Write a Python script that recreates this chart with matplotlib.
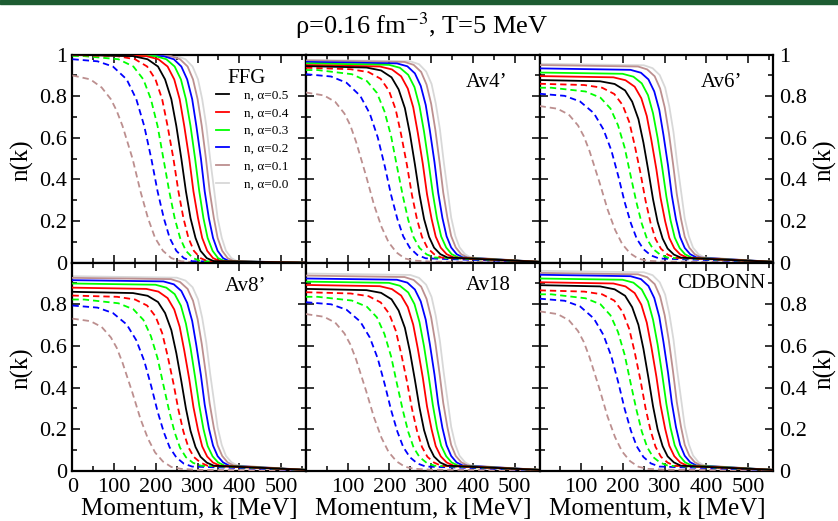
import matplotlib
matplotlib.use("Agg")
import matplotlib.pyplot as plt
from matplotlib.lines import Line2D
from matplotlib.patches import Rectangle
from matplotlib.ticker import MultipleLocator

plt.rcParams['font.family'] = ['Liberation Serif', 'DejaVu Serif']
plt.rcParams['mathtext.fontset'] = 'stix'

alphas = ['0.5', '0.4', '0.3', '0.2', '0.1', '0.0']
colours = ['#000000', '#ff0000', '#00ff00', '#0000ff', '#bc8f8f', '#d8d8d8']

# momentum points [MeV] read for each curve
# neutrons, alpha = 0.5 ... 0.0
k_n = [
    [0, 145, 180, 205, 222, 237, 249, 261, 272, 283, 295, 307, 322, 339, 560],
    [0, 177, 206, 228, 244, 257, 268, 280, 290, 301, 311, 323, 337, 354, 560],
    [0, 199, 225, 245, 260, 272, 283, 294, 304, 314, 324, 336, 349, 365, 560],
    [0, 218, 243, 261, 275, 287, 297, 308, 317, 327, 337, 348, 361, 376, 560],
    [0, 236, 258, 276, 289, 300, 310, 320, 329, 339, 348, 359, 372, 387, 560],
    [0, 250, 271, 288, 301, 311, 321, 330, 340, 348, 358, 368, 381, 395, 560],
]
# protons, alpha = 0.4 ... 0.1
k_p = [
    [0, 107, 150, 179, 199, 215, 228, 242, 254, 266, 278, 291, 307, 324, 560],
    [0, 28, 110, 146, 170, 188, 204, 218, 232, 245, 258, 272, 289, 308, 560],
    [0, 60, 97, 130, 153, 172, 189, 204, 219, 233, 249, 267, 287, 560],
    [0, 43, 70, 92, 106, 120, 144, 163, 181, 198, 217, 237, 260, 300, 560],
]

# n(k) values
ffg_solid = [1.0, 0.993, 0.978, 0.943, 0.881, 0.786, 0.657, 0.5, 0.343, 0.214, 0.119, 0.057, 0.022, 0.007, 0.0]
ffg_n = [ffg_solid] * 6
ffg_p = [
    [0.998, 0.993, 0.978, 0.943, 0.881, 0.786, 0.657, 0.5, 0.343, 0.214, 0.119, 0.057, 0.022, 0.007, 0.0],
    [0.994, 0.993, 0.978, 0.943, 0.881, 0.786, 0.657, 0.5, 0.343, 0.214, 0.119, 0.057, 0.022, 0.007, 0.0],
    [0.978, 0.968, 0.943, 0.881, 0.786, 0.657, 0.5, 0.343, 0.214, 0.119, 0.057, 0.022, 0.007, 0.0],
    [0.900, 0.881, 0.842, 0.786, 0.730, 0.657, 0.5, 0.343, 0.214, 0.119, 0.057, 0.022, 0.007, 0.001, 0.0],
]

av4_n = [
    [0.945, 0.938, 0.924, 0.891, 0.833, 0.743, 0.621, 0.473, 0.328, 0.210, 0.124, 0.072, 0.041, 0.025, 0.004],
    [0.950, 0.943, 0.929, 0.896, 0.837, 0.747, 0.624, 0.475, 0.330, 0.211, 0.125, 0.072, 0.041, 0.025, 0.004],
    [0.958, 0.951, 0.937, 0.903, 0.844, 0.753, 0.629, 0.479, 0.333, 0.213, 0.126, 0.073, 0.041, 0.025, 0.004],
    [0.965, 0.958, 0.944, 0.910, 0.850, 0.758, 0.634, 0.483, 0.335, 0.215, 0.127, 0.073, 0.041, 0.025, 0.004],
    [0.972, 0.965, 0.951, 0.917, 0.856, 0.764, 0.639, 0.486, 0.337, 0.216, 0.128, 0.073, 0.041, 0.025, 0.004],
    [0.975, 0.968, 0.954, 0.919, 0.859, 0.766, 0.641, 0.488, 0.338, 0.217, 0.128, 0.074, 0.041, 0.025, 0.004],
]
av4_p = [
    [0.937, 0.930, 0.916, 0.884, 0.826, 0.736, 0.616, 0.469, 0.325, 0.209, 0.124, 0.071, 0.041, 0.025, 0.004],
    [0.926, 0.926, 0.906, 0.873, 0.816, 0.728, 0.608, 0.463, 0.322, 0.206, 0.122, 0.071, 0.040, 0.025, 0.004],
    [0.906, 0.895, 0.865, 0.802, 0.716, 0.602, 0.462, 0.325, 0.210, 0.127, 0.071, 0.037, 0.021, 0.003],
    [0.818, 0.804, 0.773, 0.717, 0.661, 0.581, 0.417, 0.278, 0.172, 0.098, 0.049, 0.020, 0.010, 0.005, 0.002],
]

av6_n = [
    [0.878, 0.872, 0.859, 0.828, 0.774, 0.690, 0.577, 0.439, 0.305, 0.196, 0.116, 0.068, 0.039, 0.024, 0.004],
    [0.897, 0.891, 0.877, 0.846, 0.790, 0.705, 0.589, 0.449, 0.312, 0.200, 0.119, 0.069, 0.040, 0.024, 0.004],
    [0.914, 0.908, 0.894, 0.862, 0.805, 0.718, 0.600, 0.457, 0.318, 0.204, 0.121, 0.070, 0.040, 0.024, 0.004],
    [0.934, 0.927, 0.913, 0.881, 0.823, 0.734, 0.614, 0.467, 0.324, 0.208, 0.123, 0.071, 0.041, 0.025, 0.004],
    [0.950, 0.943, 0.929, 0.896, 0.837, 0.747, 0.624, 0.475, 0.330, 0.211, 0.125, 0.072, 0.041, 0.025, 0.004],
    [0.956, 0.949, 0.935, 0.902, 0.842, 0.751, 0.628, 0.478, 0.332, 0.213, 0.126, 0.072, 0.041, 0.025, 0.004],
]
av6_p = [
    [0.860, 0.854, 0.841, 0.811, 0.758, 0.676, 0.565, 0.430, 0.299, 0.192, 0.114, 0.067, 0.039, 0.024, 0.004],
    [0.841, 0.841, 0.823, 0.793, 0.741, 0.661, 0.553, 0.421, 0.292, 0.188, 0.112, 0.066, 0.039, 0.024, 0.004],
    [0.812, 0.802, 0.775, 0.719, 0.641, 0.540, 0.414, 0.291, 0.189, 0.115, 0.065, 0.035, 0.020, 0.003],
    [0.753, 0.740, 0.712, 0.660, 0.608, 0.535, 0.384, 0.256, 0.158, 0.090, 0.045, 0.019, 0.009, 0.005, 0.002],
]

av8_n = [
    [0.860, 0.854, 0.841, 0.811, 0.758, 0.676, 0.565, 0.430, 0.299, 0.192, 0.114, 0.067, 0.039, 0.024, 0.004],
    [0.880, 0.874, 0.861, 0.830, 0.775, 0.692, 0.578, 0.440, 0.306, 0.196, 0.117, 0.068, 0.039, 0.024, 0.004],
    [0.900, 0.894, 0.880, 0.849, 0.793, 0.707, 0.591, 0.450, 0.313, 0.201, 0.119, 0.069, 0.040, 0.024, 0.004],
    [0.916, 0.910, 0.896, 0.864, 0.807, 0.720, 0.602, 0.458, 0.318, 0.204, 0.121, 0.070, 0.040, 0.024, 0.004],
    [0.927, 0.921, 0.907, 0.874, 0.817, 0.729, 0.609, 0.464, 0.322, 0.206, 0.122, 0.071, 0.040, 0.025, 0.004],
    [0.935, 0.928, 0.914, 0.882, 0.824, 0.735, 0.614, 0.468, 0.325, 0.208, 0.123, 0.071, 0.041, 0.025, 0.004],
]
av8_p = [
    [0.842, 0.836, 0.823, 0.794, 0.742, 0.662, 0.553, 0.421, 0.293, 0.188, 0.112, 0.066, 0.039, 0.024, 0.004],
    [0.823, 0.823, 0.805, 0.776, 0.725, 0.647, 0.541, 0.412, 0.286, 0.184, 0.110, 0.065, 0.038, 0.024, 0.004],
    [0.794, 0.784, 0.758, 0.703, 0.627, 0.528, 0.405, 0.285, 0.185, 0.112, 0.064, 0.034, 0.020, 0.003],
    [0.731, 0.719, 0.691, 0.641, 0.591, 0.519, 0.373, 0.249, 0.154, 0.088, 0.044, 0.018, 0.009, 0.004, 0.001],
]

av18_n = [
    [0.874, 0.868, 0.855, 0.824, 0.770, 0.687, 0.574, 0.437, 0.304, 0.195, 0.116, 0.068, 0.039, 0.024, 0.004],
    [0.893, 0.887, 0.873, 0.842, 0.787, 0.702, 0.587, 0.447, 0.310, 0.199, 0.118, 0.069, 0.040, 0.024, 0.004],
    [0.909, 0.903, 0.889, 0.857, 0.801, 0.714, 0.597, 0.455, 0.316, 0.203, 0.120, 0.070, 0.040, 0.024, 0.004],
    [0.924, 0.918, 0.904, 0.871, 0.814, 0.726, 0.607, 0.462, 0.321, 0.206, 0.122, 0.071, 0.040, 0.025, 0.004],
    [0.938, 0.931, 0.917, 0.885, 0.826, 0.737, 0.616, 0.469, 0.326, 0.209, 0.124, 0.071, 0.041, 0.025, 0.004],
    [0.948, 0.941, 0.927, 0.894, 0.835, 0.745, 0.623, 0.474, 0.329, 0.211, 0.125, 0.072, 0.041, 0.025, 0.004],
]
av18_p = [
    [0.858, 0.852, 0.839, 0.809, 0.756, 0.674, 0.564, 0.429, 0.298, 0.192, 0.114, 0.067, 0.039, 0.024, 0.004],
    [0.836, 0.836, 0.818, 0.788, 0.737, 0.657, 0.549, 0.418, 0.291, 0.187, 0.111, 0.066, 0.038, 0.024, 0.004],
    [0.810, 0.800, 0.774, 0.717, 0.640, 0.539, 0.413, 0.291, 0.188, 0.114, 0.065, 0.035, 0.020, 0.003],
    [0.753, 0.740, 0.712, 0.660, 0.608, 0.535, 0.384, 0.256, 0.158, 0.090, 0.045, 0.019, 0.009, 0.005, 0.002],
]

cdb_n = [
    [0.892, 0.886, 0.872, 0.841, 0.786, 0.701, 0.586, 0.446, 0.310, 0.199, 0.118, 0.069, 0.040, 0.024, 0.004],
    [0.906, 0.900, 0.886, 0.854, 0.798, 0.712, 0.595, 0.453, 0.315, 0.202, 0.120, 0.070, 0.040, 0.024, 0.004],
    [0.924, 0.918, 0.904, 0.871, 0.814, 0.726, 0.607, 0.462, 0.321, 0.206, 0.122, 0.071, 0.040, 0.025, 0.004],
    [0.942, 0.935, 0.921, 0.888, 0.830, 0.740, 0.619, 0.471, 0.327, 0.210, 0.124, 0.072, 0.041, 0.025, 0.004],
    [0.951, 0.944, 0.930, 0.897, 0.838, 0.747, 0.625, 0.476, 0.330, 0.212, 0.125, 0.072, 0.041, 0.025, 0.004],
    [0.961, 0.954, 0.940, 0.906, 0.847, 0.755, 0.631, 0.481, 0.334, 0.214, 0.126, 0.073, 0.041, 0.025, 0.004],
]
cdb_p = [
    [0.867, 0.861, 0.848, 0.818, 0.764, 0.681, 0.570, 0.434, 0.301, 0.194, 0.115, 0.067, 0.039, 0.024, 0.004],
    [0.848, 0.848, 0.829, 0.800, 0.747, 0.667, 0.557, 0.424, 0.295, 0.189, 0.113, 0.066, 0.039, 0.024, 0.004],
    [0.827, 0.817, 0.790, 0.732, 0.653, 0.550, 0.422, 0.297, 0.192, 0.117, 0.066, 0.035, 0.020, 0.003],
    [0.766, 0.753, 0.724, 0.672, 0.619, 0.544, 0.391, 0.260, 0.161, 0.092, 0.046, 0.019, 0.009, 0.005, 0.002],
]

panels = [("FFG", ffg_n, ffg_p), ("Av4\u2019", av4_n, av4_p), ("Av6\u2019", av6_n, av6_p),
          ("Av8\u2019", av8_n, av8_p), ("Av18", av18_n, av18_p), ("CDBONN", cdb_n, cdb_p)]
name_pos = [(0.747, 0.885, 'center'), (0.774, 0.868, 'center'), (0.781, 0.868, 'center'),
            (0.739, 0.885, 'center'), (0.778, 0.890, 'center'), (0.968, 0.900, 'right')]

fig = plt.figure(figsize=(8.38, 5.21), dpi=100)
fig.patches.append(Rectangle((0, 1 - 4 / 521), 1, 4 / 521, transform=fig.transFigure,
                             color='#1d5c32', zorder=0))

col_x = [0.0865, 0.3652, 0.6439]
row_y = [0.4958, 0.0965]
w, h = 0.2787, 0.3993
dash = (0, (3.5, 2.2))

for i, (name, n_vals, p_vals) in enumerate(panels):
    r, c = divmod(i, 3)
    ax = fig.add_axes([col_x[c], row_y[r], w, h])
    for j in reversed(range(4)):
        ax.plot(k_p[j], p_vals[j], color=colours[j + 1], lw=1.3, ls=dash, zorder=3)
    for j in reversed(range(6)):
        ax.plot(k_n[j], n_vals[j], color=colours[j], lw=1.3, zorder=2 if j == 5 else 3)
    ax.set_xlim(0, 560)
    ax.set_ylim(0, 1)

    ax.xaxis.set_major_locator(MultipleLocator(100))
    ax.xaxis.set_minor_locator(MultipleLocator(50))
    ax.yaxis.set_major_locator(MultipleLocator(0.2))
    ax.yaxis.set_minor_locator(MultipleLocator(0.1))
    ax.tick_params(which='both', direction='in', top=True, right=True, width=1.1, labelsize=16)
    ax.tick_params(which='major', length=6)
    ax.tick_params(which='minor', length=3.5)
    for s in ax.spines.values():
        s.set_linewidth(1.6)

    ax.set_xticks([0, 100, 200, 300, 400, 500])
    if r == 0:
        ax.tick_params(labelbottom=False)
    else:
        ax.set_xticklabels(['0' if c == 0 else '', '100', '200', '300', '400', '500'])
        ax.tick_params(axis='x', pad=5)
    ax.set_yticks([0, 0.2, 0.4, 0.6, 0.8, 1.0])
    ax.set_yticklabels(['0', '0.2', '0.4', '0.6', '0.8', '1' if r == 0 else ''])
    if c == 0:
        ax.tick_params(axis='y', labelleft=True, labelright=False, pad=4)
    elif c == 2:
        ax.tick_params(axis='y', labelleft=False, labelright=True, pad=4)
    else:
        ax.tick_params(axis='y', labelleft=False, labelright=False)

    nx, ny, ha = name_pos[i]
    ax.text(nx, ny, name, transform=ax.transAxes, fontsize=15, ha=ha, va='center', zorder=6)

    if i == 0:
        handles = [Line2D([], [], color=colours[j], lw=1.3) for j in range(6)]
        ax.legend(handles, ['n, \u03b1=' + a for a in alphas], loc='upper left',
                  bbox_to_anchor=(0.615, 0.833), frameon=False, fontsize=9.5,
                  handlelength=1.0, handletextpad=1.1, labelspacing=0.42,
                  borderpad=0, borderaxespad=0)

fig.text(0.5036, 0.950, '\u03c1=0.16 fm$^{-3}$, T=5 MeV', fontsize=19, ha='center', va='center')
for yc in [1 - 160 / 521, 1 - 368 / 521]:
    fig.text(22 / 838, yc, 'n(k)', fontsize=18, rotation=90, ha='center', va='center')
    fig.text(825 / 838, yc, 'n(k)', fontsize=18, rotation=90, ha='center', va='center')
for xc in [189, 423, 657]:
    fig.text(xc / 838, 1 - 509 / 521, 'Momentum, k [MeV]', fontsize=18, ha='center', va='center')

fig.savefig('out.png', dpi=100)
